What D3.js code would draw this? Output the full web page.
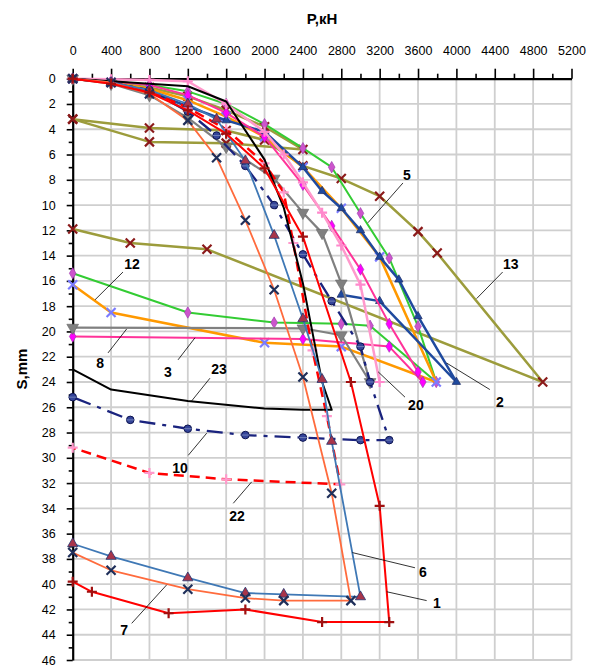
<!DOCTYPE html>
<html><head><meta charset="utf-8">
<script src="https://cdn.jsdelivr.net/npm/d3@7"></script>
<style>body{margin:0;background:#fff} svg{display:block} text{font-family:"Liberation Sans",Arial,sans-serif}</style>
</head><body><svg id="c" width="597" height="668"></svg>
<script>
// ---- tick values ----
const xTicks = d3.range(0, 5201, 400);
const xMinor = d3.range(200, 5200, 400);
const yTicks = d3.range(0, 47, 2);
const yMinor = d3.range(1, 46, 2);

// ---- series data: [P (kN), S (mm)] ----
const olive13a = [[0,0],[400,0.3],[800,0.7],[1200,1.4],[1600,2.5],[2000,3.8],[2400,5.6],[1600,5.1],[800,5.0],[0,3.2]];
const olive13 = [[0,3.2],[800,3.9],[1600,4.1],[2000,4.85],[2400,6.9],[2800,7.9],[3200,9.3],[3600,12.1],[3800,13.8],[4900,24.0],[1400,13.5],[600,13.0],[0,11.9]];
const green5 = [[0,0],[400,0.2],[800,0.5],[1200,1.0],[1600,2.0],[2000,3.6],[2400,5.5],[2700,7.0],[3000,10.65],[3300,14.2],[3600,19.6],[3790,24.0],[3100,19.55],[2800,19.4],[2100,19.3],[1200,18.5],[0,15.4]];
const orange12 = [[0,0],[400,0.3],[800,0.8],[1200,1.7],[1600,3.0],[2000,4.6],[2400,7.0],[2800,10.25],[3200,14.1],[3790,24.0],[2800,21.2],[2000,20.9],[400,18.5],[0,16.3]];
const navy2 = [[0,0],[400,0.3],[800,1.0],[1200,2.2],[1600,3.3],[2000,4.2],[2400,7.0],[2600,8.9],[2800,10.25],[3000,12.0],[3200,14.1],[3400,15.9],[3600,18.8],[4000,24.0],[3200,17.6],[2800,17.1]];
const pink3 = [[0,0],[400,0.2],[800,0.5],[1200,1.3],[1600,2.7],[2000,4.6],[2400,8.4],[2700,11.65],[3000,15.1],[3300,19.4],[3600,23.2],[3650,24.0],[3300,21.2],[2400,20.6],[0,20.4]];
const lightPink20 = [[0,0],[400,0.05],[800,0.1],[1200,0.2],[1600,2.0],[2000,4.2],[2200,6.0],[2400,8.2],[2600,10.6],[2800,13.2],[3000,16.3],[3200,24.0]];
const gray8 = [[0,0],[400,0.4],[800,1.3],[1200,3.1],[1600,5.4],[2100,7.9],[2400,10.6],[2600,12.2],[2800,16.2],[3100,24.0],[2800,20.3],[2400,19.75],[0,19.7]];
const navy10 = [[0,0],[400,0.3],[800,0.9],[1200,2.6],[1500,4.5],[1800,6.9],[2100,10.0],[2400,13.9],[2700,17.6],[3000,21.2],[3100,24.0],[3300,28.6],[3000,28.6],[2400,28.4],[1800,28.2],[1200,27.7],[600,27.0],[0,25.2]];
const red22 = [[0,0],[400,0.3],[800,1.0],[1200,2.3],[1600,4.0],[2000,6.7],[2200,9.0],[2300,13.0],[2500,21.5],[2650,26.7],[2790,32.1],[1600,31.7],[800,31.2],[0,29.2]];
const black23 = [[0,0],[1200,0.6],[1600,1.8],[2000,6.4],[2200,10.2],[2400,16.2],[2600,24.0],[2700,26.2],[2400,26.2],[2000,26.1],[1200,25.5],[400,24.6],[0,23.0]];
const steel6 = [[0,0],[400,0.3],[800,0.9],[1200,2.0],[1500,3.2],[1800,6.5],[2100,12.4],[2400,19.0],[2600,23.8],[2700,28.7],[3000,41.0],[2200,40.8],[1800,40.7],[1200,39.5],[400,37.8],[0,36.8]];
const coral7 = [[0,0],[400,0.3],[800,1.2],[1200,3.3],[1500,6.25],[1800,11.2],[2100,16.7],[2400,23.6],[2700,32.8],[2900,41.3],[2200,41.3],[1800,41.1],[1200,40.4],[400,38.9],[0,37.5]];
const red1 = [[0,0],[400,0.4],[800,1.1],[1200,2.5],[1600,4.35],[2000,7.1],[2400,12.5],[2900,24.0],[3200,33.8],[3300,43.0],[2600,43.0],[1800,42.0],[1000,42.3],[200,40.6],[0,39.8]];

// ---- curve labels: text position and leader line, in data units ----
const labelText = ["1","2","3","5","6","7","8","10","12","13","20","22","23"];
const labelPos = [[3797,41.5],[4454,25.6],[993,23.2],[3484,7.6],[3651,39.0],[536,43.6],[285,22.5],[1118,30.8],[619,14.7],[4568,14.7],[3578,25.8],[1712,34.6],[1525,23.0]];
const leaderFrom = [[3690,41.3],[4349,24.6],[1098,22.25],[3443,8.25],[3568,38.7],[615,43.1],[368,21.7],[1205,29.8],[524,15.3],[4482,15.3],[3464,25.2],[1674,33.6],[1431,23.7]];
const leaderTo = [[3274,40.6],[3898,22.5],[1275,20.5],[3078,11.4],[2915,37.5],[980,40.05],[563,19.8],[1397,28.05],[232,17.5],[4211,17.4],[3185,23.2],[1866,31.9],[1240,25.5]];

const svg = d3.select("#c");
const x = d3.scaleLinear().domain([0,5200]).range([72.7,571.5]);
const y = d3.scaleLinear().domain([0,46]).range([78.7,660]);

// grid
const grid = svg.append("g").attr("stroke","#cfcfcf").attr("stroke-width",1.8);
grid.selectAll("line.v").data(xTicks.slice(1)).join("line")
  .attr("x1",d=>x(d)).attr("x2",d=>x(d)).attr("y1",y(0)).attr("y2",y(46));
grid.selectAll("line.h").data(yTicks.slice(1)).join("line")
  .attr("x1",x(0)).attr("x2",x(5200)).attr("y1",d=>y(d)).attr("y2",d=>y(d));

// axes
svg.append("g").attr("transform",`translate(0,${y(0)})`)
  .call(d3.axisTop(x).tickValues(xTicks).tickFormat(d3.format("d")).tickSize(10).tickPadding(14).tickSizeOuter(0));
svg.append("g").attr("transform",`translate(0,${y(0)})`)
  .call(d3.axisTop(x).tickValues(xMinor).tickSize(5).tickFormat("").tickSizeOuter(0))
  .select(".domain").remove();
svg.append("g").attr("transform",`translate(${x(0)},0)`)
  .call(d3.axisLeft(y).tickValues(yTicks).tickFormat(d3.format("d")).tickSize(6).tickPadding(11).tickSizeOuter(0));
svg.append("g").attr("transform",`translate(${x(0)},0)`)
  .call(d3.axisLeft(y).tickValues(yMinor).tickSize(4).tickFormat("").tickSizeOuter(0))
  .select(".domain").remove();
svg.selectAll(".domain").attr("stroke","#000").attr("stroke-width",2.2);
svg.selectAll(".tick line").attr("stroke","#000").attr("stroke-width",1.6);
svg.selectAll(".tick text").attr("font-size",12.5).attr("fill","#000")
  .attr("font-family","'Liberation Sans',Arial,sans-serif");

// titles
svg.append("text").attr("x",322).attr("y",24).attr("text-anchor","middle")
  .attr("font-size",15).attr("font-weight","bold").text("P,кН");
svg.append("text").attr("transform",`translate(27,369) rotate(-90)`).attr("text-anchor","middle")
  .attr("font-size",15).attr("font-weight","bold").text("S,mm");

// series styling table
const series = [
  {data:olive13a, color:"#9c9c3c", w:2.5, m:"x", mc:"#8b1a1a"},
  {data:olive13, color:"#9c9c3c", w:2.5, m:"x", mc:"#8b1a1a"},
  {data:green5, color:"#33cc33", w:2, m:"diamond", mc:"#cc55cc"},
  {data:orange12, color:"#ff9900", w:2.5, m:"x", mc:"#7b7bff"},
  {data:navy2, color:"#1f4a9e", w:2.5, m:"tri", mc:"#1f4a9e", ms:30},
  {data:pink3, color:"#ff3399", w:2, m:"diamond", mc:"#ff00ff"},
  {data:lightPink20, color:"#ff99cc", w:2.5, m:"plus", mc:"#ff88cc"},
  {data:gray8, color:"#808080", w:2.2, m:"tridown", mc:"#808080"},
  {data:navy10, color:"#1a237e", w:2.3, m:"circle", mc:"#34449a", dash:"16,7,4,7"},
  {data:red22, color:"#ff0000", w:2.5, m:"plus", mc:"#ff99cc", dash:"10,6"},
  {data:black23, color:"#000000", w:2, m:null},
  {data:steel6, color:"#3f78b5", w:1.8, m:"tri", mc:"#a8344a"},
  {data:coral7, color:"#ff6b3d", w:1.8, m:"x", mc:"#1f2f5a"},
  {data:red1, color:"#ff0000", w:2, m:"plus", mc:"#a01010"}
];

const line = d3.line().x(d=>x(d[0])).y(d=>y(d[1]));
const plot = svg.append("g");
series.forEach(s=>{
  plot.append("path").attr("d",line(s.data)).attr("fill","none")
    .attr("stroke",s.color).attr("stroke-width",s.w)
    .attr("stroke-linejoin","round")
    .attr("stroke-dasharray",s.dash||null);
  if(!s.m) return;
  const g = plot.append("g");
  s.data.forEach(d=>{
    const px = x(d[0]), py = y(d[1]);
    if(s.m==="x"){
      g.append("path").attr("d","M-4.5,-4.5L4.5,4.5M-4.5,4.5L4.5,-4.5")
        .attr("transform",`translate(${px},${py})`).attr("stroke",s.mc).attr("stroke-width",2.2);
    } else if(s.m==="plus"){
      g.append("path").attr("d","M-5,0H5M0,-5V5")
        .attr("transform",`translate(${px},${py})`).attr("stroke",s.mc).attr("stroke-width",2.2);
    } else if(s.m==="diamond"){
      g.append("path").attr("d",d3.symbol(d3.symbolDiamond,38)())
        .attr("transform",`translate(${px},${py})`).attr("fill",s.mc).attr("stroke","#9933aa").attr("stroke-width",0.6);
    } else if(s.m==="tri"){
      g.append("path").attr("d",d3.symbol(d3.symbolTriangle,s.ms||45)())
        .attr("transform",`translate(${px},${py})`).attr("fill",s.mc).attr("stroke","#23336e").attr("stroke-width",0.8);
    } else if(s.m==="tridown"){
      g.append("path").attr("d",d3.symbol(d3.symbolTriangle,60)())
        .attr("transform",`translate(${px},${py}) rotate(180)`).attr("fill",s.mc).attr("stroke","#666").attr("stroke-width",0.6);
    } else if(s.m==="circle"){
      g.append("circle").attr("cx",px).attr("cy",py).attr("r",3.8)
        .attr("fill",s.mc).attr("stroke","#0d1450").attr("stroke-width",1);
      g.append("line").attr("x1",px-4).attr("x2",px+4).attr("y1",py).attr("y2",py)
        .attr("stroke","#8090c0").attr("stroke-width",0.8);
    }
  });
});

// labels with leader lines
const lab = svg.append("g");
labelText.forEach((t,i)=>{
  lab.append("line").attr("x1",x(leaderFrom[i][0])).attr("y1",y(leaderFrom[i][1]))
    .attr("x2",x(leaderTo[i][0])).attr("y2",y(leaderTo[i][1]))
    .attr("stroke","#000").attr("stroke-width",0.8);
  lab.append("text").attr("x",x(labelPos[i][0])).attr("y",y(labelPos[i][1]))
    .attr("text-anchor","middle").attr("dominant-baseline","central")
    .attr("font-size",14).attr("font-weight","bold").text(t);
});
</script></body></html>
